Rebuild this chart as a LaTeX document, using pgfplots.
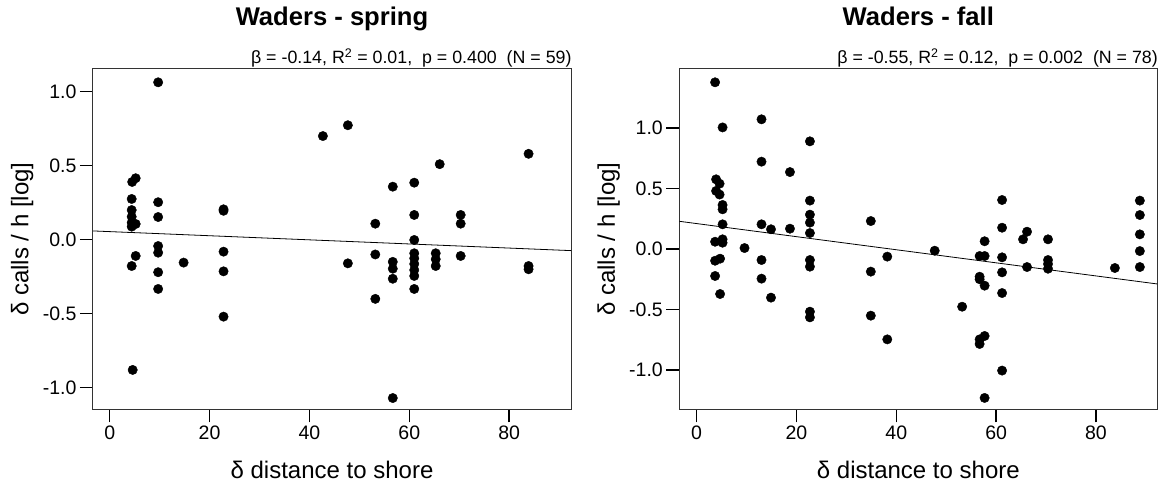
\documentclass[border=0pt]{standalone}
\usepackage{fontspec}
\setmainfont{Liberation Sans}
\usepackage{pgfplots}
\pgfplotsset{compat=1.18}
\pgfplotstableread{
x y
4.5 0.39
5.2 0.415
4.4 0.275
4.4 0.20
4.4 0.155
4.4 0.115
5.2 0.106
4.4 0.088
5.2 -0.11
4.4 -0.178
4.6 -0.88
9.7 1.063
9.7 0.253
9.7 0.153
9.7 -0.043
9.7 -0.088
9.7 -0.22
9.7 -0.333
14.8 -0.155
22.8 0.205
22.8 0.195
22.8 -0.081
22.8 -0.214
22.8 -0.52
42.7 0.70
47.7 0.773
47.7 -0.16
83.9 0.58
83.9 -0.178
83.9 -0.20
66.1 0.51
56.7 0.358
61 0.385
61 0.167
53.2 0.108
70.3 0.167
70.3 0.108
61 -0.002
53.2 -0.10
70.3 -0.11
61 -0.092
61 -0.126
61 -0.164
61 -0.205
61 -0.245
65.3 -0.092
65.3 -0.132
65.3 -0.178
56.7 -0.15
56.7 -0.196
56.7 -0.264
53.2 -0.40
61 -0.333
56.7 -1.07
}\spring
\pgfplotstableread{
x y
3.7 1.378
5.2 1.005
3.9 0.576
4.6 0.54
3.9 0.48
4.6 0.45
5.2 0.364
5.2 0.328
5.2 0.204
3.7 0.06
5.2 0.08
5.2 0.052
3.7 -0.097
4.7 -0.08
3.7 -0.223
4.7 -0.372
9.6 0.008
13.0 1.072
13.0 0.722
13.0 0.204
13.0 -0.091
13.0 -0.245
14.9 0.163
14.9 -0.402
18.7 0.636
18.7 0.168
22.7 0.89
22.7 0.40
22.7 0.284
22.7 0.218
22.7 0.132
22.7 -0.091
22.7 -0.146
22.7 -0.518
22.7 -0.565
34.9 0.231
34.9 -0.187
34.9 -0.551
38.2 -0.063
38.2 -0.747
47.7 -0.014
53.2 -0.477
56.7 -0.058
57.7 -0.058
57.7 0.064
56.7 -0.229
56.7 -0.25
57.7 -0.303
56.7 -0.747
56.7 -0.785
57.7 -0.719
57.7 -1.231
61.2 0.405
61.2 0.176
61.2 -0.069
61.2 -0.193
61.2 -0.364
61.2 -1.005
65.4 0.080
66.2 0.143
66.2 -0.149
70.4 0.080
70.4 -0.091
70.4 -0.124
70.4 -0.163
83.8 -0.157
88.8 0.40
88.8 0.281
88.8 0.121
88.8 -0.017
88.8 -0.149
}\fall
\pgfplotsset{
 wstyle/.style={
  scale only axis, width=478pt, height=340.3pt,
  anchor=south west,
  axis line style={black!80, line width=1pt},
  xtick pos=bottom, ytick pos=left,
  tick align=outside,
  major tick length=13pt,
  tick style={black, line width=1.3pt},
  xtick={0,20,40,60,80},
  ytick={-1,-0.5,0,0.5,1},
  /pgf/number format/assume math mode=true,
  ticklabel style={font=\fontsize{19.5}{19.5}\selectfont},
  y tick label style={/pgf/number format/.cd, fixed, fixed zerofill, precision=1},
  xlabel={δ distance to shore},
  ylabel={δ calls / h [log]},
  label style={font=\fontsize{24}{24}\selectfont},
  xlabel style={at={(axis description cs:0.5,-0.2048)}, anchor=base},
  ylabel style={at={(axis description cs:-0.148,0.5)}, anchor=center},
  title style={at={(axis description cs:0.5,1.1087)}, anchor=base, font=\fontsize{25.6}{26}\selectfont\bfseries},
  clip=false,
 },
 dots/.style={only marks, mark=*, mark size=4.7pt, black, mark options={fill=black, draw=black}},
 reg/.style={no marks, black, line width=0.8pt},
}
\begin{document}
\begin{tikzpicture}
\begin{axis}[wstyle, at={(93pt,76.7pt)}, xmin=-3.35, xmax=92.4, ymin=-1.146, ymax=1.153, title={Waders - spring}]
\addplot[dots] table {\spring};
\addplot[reg] coordinates {(-3.35,0.059) (92.4,-0.074)};
\node[anchor=base east, font=\fontsize{17.8}{18}\selectfont, inner sep=0pt] at (axis description cs:1.0015,1.016) {β = -0.14, R\textsuperscript{2} = 0.01,\ \ p = 0.400\ \ (N = 59)};
\end{axis}
\begin{axis}[wstyle, at={(679.3pt,76.7pt)}, xmin=-3.47, xmax=92.3, ymin=-1.325, ymax=1.488, title={Waders - fall}]
\addplot[dots] table {\fall};
\addplot[reg] coordinates {(-3.47,0.229) (92.3,-0.289)};
\node[anchor=base east, font=\fontsize{17.8}{18}\selectfont, inner sep=0pt] at (axis description cs:1.0015,1.016) {β = -0.55, R\textsuperscript{2} = 0.12,\ \ p = 0.002\ \ (N = 78)};
\end{axis}
\pgfresetboundingbox
\path[use as bounding box] (0,0) rectangle (1164pt,486pt);
\end{tikzpicture}
\end{document}
